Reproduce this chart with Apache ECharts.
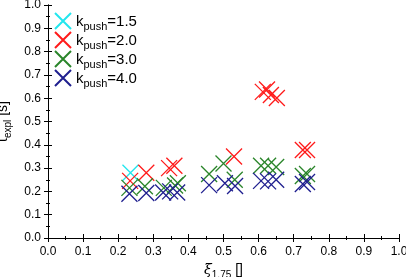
<!DOCTYPE html>
<html><head><meta charset="utf-8">
<script src="https://cdn.jsdelivr.net/npm/echarts@6/dist/echarts.min.js"></script>
<style>html,body{margin:0;padding:0;background:#fff}#c{width:406px;height:277px}</style>
</head><body><div id="c"></div>
<script>
const seriesNames = ['1.5', '2.0', '3.0', '4.0'];
const colors = ['#22e6ee', '#ff1a1a', '#2a852a', '#1f1f8f'];
const xTicks = ['0.0','0.1','0.2','0.3','0.4','0.5','0.6','0.7','0.8','0.9','1.0'];
const k15 = [[0.235, 0.28]];
const k20 = [[0.234, 0.245], [0.28, 0.28], [0.345, 0.30], [0.36, 0.31], [0.53, 0.35],
  [0.612, 0.627], [0.624, 0.637], [0.635, 0.614], [0.652, 0.601], [0.726, 0.378], [0.738, 0.378]];
const k30 = [[0.232, 0.215], [0.276, 0.222], [0.33, 0.215], [0.362, 0.225], [0.37, 0.235],
  [0.459, 0.275], [0.50, 0.32], [0.532, 0.25], [0.607, 0.31], [0.627, 0.31], [0.65, 0.305],
  [0.726, 0.266], [0.738, 0.275]];
const k40 = [[0.232, 0.19], [0.28, 0.193], [0.328, 0.195], [0.348, 0.20], [0.368, 0.195],
  [0.459, 0.227], [0.504, 0.235], [0.533, 0.223], [0.607, 0.245], [0.627, 0.243], [0.65, 0.25],
  [0.726, 0.232], [0.738, 0.24]];
const data = [k15, k20, k30, k40];

const FONT = 'Liberation Sans';
const crossPath = 'path://M0,0L10,10M10,0L0,10';
const chart = echarts.init(document.getElementById('c'), null, {renderer: 'canvas'});
const axisCommon = {
  min: 0, max: 1, interval: 0.1,
  axisLine: {show: true, lineStyle: {color: '#000', width: 1}},
  axisTick: {show: true, inside: true, length: 4, lineStyle: {color: '#000'}},
  minorTick: {show: true, splitNumber: 2, length: 2, lineStyle: {color: '#000'}},
  splitLine: {show: false},
};
const option = {
  animation: false,
  backgroundColor: '#fff',
  grid: {left: 48, right: 7, top: 5, bottom: 39, containLabel: false, outerBoundsMode: 'none'},
  legend: {
    left: 54, top: 12, padding: 0, orient: 'vertical', itemGap: -1, itemWidth: 16, itemHeight: 16,
    formatter: n => '{a|k}{b|push}{a|=' + n + '}',
    textStyle: {
      fontFamily: FONT, color: '#000', lineHeight: 16,
      rich: {
        a: {fontSize: 15, fontFamily: FONT, color: '#000', verticalAlign: 'bottom', lineHeight: 16},
        b: {fontSize: 11, fontFamily: FONT, color: '#000', verticalAlign: 'bottom', lineHeight: 12, padding: [0,0,-3,0]}
      }
    },
    data: seriesNames
  },
  xAxis: [
    Object.assign({}, axisCommon, {
      type: 'value', position: 'bottom',
      axisLabel: {fontFamily: FONT, fontSize: 12, color: '#000', margin: 8,
        formatter: v => xTicks[Math.round(v * 10)]},
      name: '{i|ξ}{s|1.75}{n| []}', nameLocation: 'middle', nameGap: 22,
      nameTextStyle: {rich: {
        i: {fontFamily: 'DejaVu Serif', fontStyle: 'italic', fontSize: 14, color: '#000', verticalAlign: 'bottom', lineHeight: 16},
        s: {fontFamily: FONT, fontSize: 10, color: '#000', verticalAlign: 'bottom', lineHeight: 11, padding: [0,0,-3,0]},
        n: {fontFamily: FONT, fontSize: 14, color: '#000', verticalAlign: 'bottom', lineHeight: 16}
      }}
    }),
    Object.assign({}, axisCommon, {type: 'value', position: 'top', axisLabel: {show: false}})
  ],
  yAxis: [
    Object.assign({}, axisCommon, {
      type: 'value', position: 'left',
      axisLabel: {fontFamily: FONT, fontSize: 12, color: '#000', margin: 7,
        formatter: v => v.toFixed(1)},
      name: '{n|t}{s|expl}{n| [s]}', nameLocation: 'middle', nameGap: 36, nameRotate: 90,
      nameTextStyle: {rich: {
        s: {fontFamily: FONT, fontSize: 10, color: '#000', verticalAlign: 'bottom', lineHeight: 11, padding: [0,0,-3,0]},
        n: {fontFamily: FONT, fontSize: 14, color: '#000', verticalAlign: 'bottom', lineHeight: 16}
      }}
    }),
    Object.assign({}, axisCommon, {type: 'value', position: 'right', axisLabel: {show: false}})
  ],
  series: seriesNames.map((n, i) => ({
    name: n, type: 'scatter', data: data[i],
    symbol: crossPath, symbolSize: 16,
    itemStyle: {color: 'rgba(0,0,0,0)', borderColor: colors[i], borderWidth: 1.3, opacity: 1},
    emphasis: {disabled: true}
  }))
};
chart.setOption(option);
</script></body></html>
